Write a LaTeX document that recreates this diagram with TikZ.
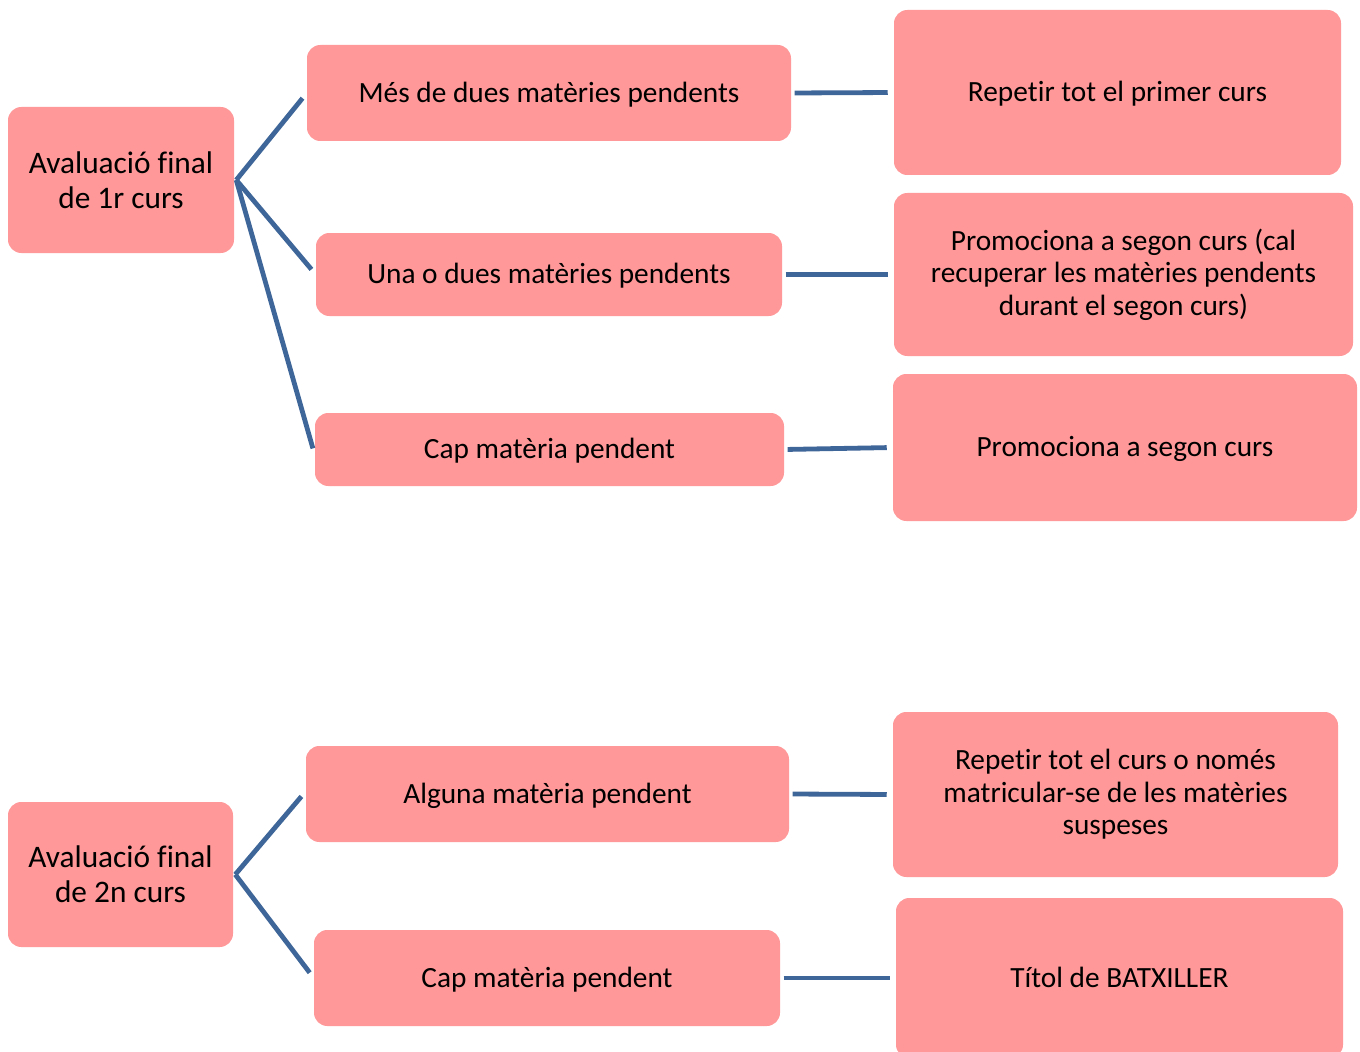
\documentclass[tikz,border=0pt]{standalone}
\usepackage{fontspec}
\setmainfont[Ligatures={NoCommon,NoContextual}]{Carlito}
\definecolor{boxfill}{HTML}{FF9898}
\definecolor{linkcol}{HTML}{3F6699}
\tikzset{
  every node/.style={inner sep=0pt},
  box/.style n args={2}{draw=none, fill=boxfill, rounded corners=10pt,
    minimum width=#1*0.75pt, minimum height=#2*0.75pt, align=center,
    font=\fontsize{22}{24.4}\selectfont},
  oneline/.style={text height=18pt, text depth=4.4pt},
  rootbox/.style={font=\fontsize{23.5}{26.3}\selectfont},
  link/.style={draw=linkcol, line width=3.6pt},
}
\begin{document}
\begin{tikzpicture}[x=0.75pt, y=-0.75pt]
\useasboundingbox (0,0) rectangle (1360,1052);
\clip (0,0) rectangle (1360,1052);
% top group
\node[box={226}{146}, rootbox] (a1) at (121,180) {Avaluació final\\de 1r curs};
\node[box={484}{96}, oneline] (b1) at (549,93) {Més de dues matèries pendents};
\node[box={466}{83}, oneline] (b2) at (549,274.5) {Una o dues matèries pendents};
\node[box={469}{73}, oneline] (b3) at (549.5,449.5) {Cap matèria pendent};
\node[box={447}{165}, oneline] (c1) at (1117.5,92.5) {Repe\kern0pt tir tot el primer curs};
\node[box={459}{163}] (c2) at (1123.5,274.5) {Promociona a segon curs (cal\\recuperar les matèries pendents\\durant el segon curs)};
\node[box={464}{147}, oneline] (c3) at (1125,447.5) {Promociona a segon curs};
% bottom group
\node[box={225}{145}, rootbox] (a2) at (120.5,874.5) {Avaluació final\\de 2n curs};
\node[box={483}{96}, oneline] (d1) at (547.5,794) {Alguna matèria pendent};
\node[box={466}{96}, oneline] (d2) at (547,978) {Cap matèria pendent};
\node[box={445}{165}] (e1) at (1115.5,794.5) {Repe\kern0pt tir tot el curs o només\\matricular-se de les matèries\\suspeses};
\node[box={447}{160}, oneline] (e2) at (1119.5,978) {Tí\kern0pt tol de BATXILLER};
% connectors
\coordinate (f1) at ([xshift=1.5pt]a1.east);
\coordinate (f2) at ([xshift=1.5pt]a2.east);
\draw[link, shorten >=5pt] (f1) -- (b1.west);
\draw[link, shorten >=5pt] (f1) -- (b2.west);
\draw[link, shorten >=5pt] (f1) -- ([yshift=-4pt]b3.west);
\draw[link, shorten <=2.5pt, shorten >=4.5pt] (b1.east) -- (c1.west);
\draw[link, shorten <=2.5pt, shorten >=4.5pt] (b2.east) -- (c2.west);
\draw[link, shorten <=2.5pt, shorten >=4.5pt] (b3.east) -- (c3.west);
\draw[link, shorten >=5pt] (f2) -- ([yshift=2pt]d1.west);
\draw[link, shorten >=5pt] (f2) -- (d2.west);
\draw[link, shorten <=2.5pt, shorten >=4.5pt] (d1.east) -- (e1.west);
\draw[link, shorten <=2.5pt, shorten >=4.5pt] (d2.east) -- (e2.west);
\end{tikzpicture}
\end{document}
